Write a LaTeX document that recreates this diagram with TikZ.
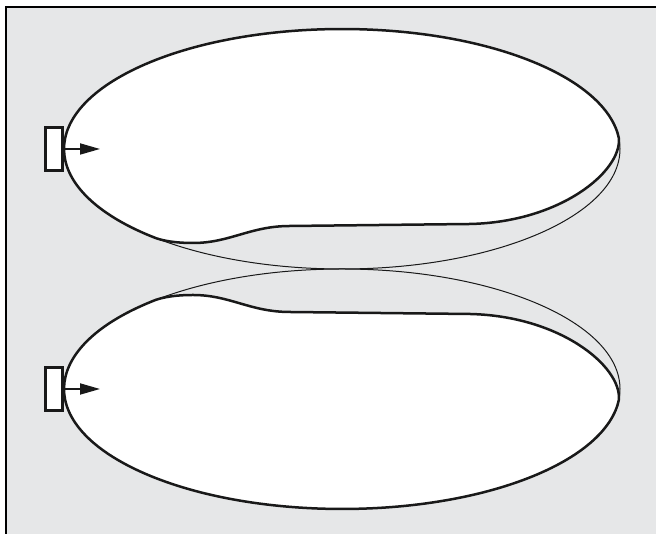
\documentclass[tikz,border=0pt]{standalone}
\usetikzlibrary{arrows.meta}
\definecolor{bggray}{RGB}{230,231,232}

\begin{document}
\begin{tikzpicture}[
    x=1pt, y=1pt,
    frameline/.style={black, line width=1.6pt},
    thinedge/.style={black!90, line width=1pt},
    balloon/.style={black!90, line width=2.5pt, fill=white},
    probe/.style={draw=black!90, line width=2.2pt, fill=white,
                  minimum width=17, minimum height=43, inner sep=0pt},
    beam/.style={black!90, line width=1.8pt,
                 -{Triangle[length=20pt, width=11pt]}}
]
\useasboundingbox (0,0) rectangle (656,534);

% ---------- background ----------
\fill[bggray] (6,0) rectangle (656,527);
\draw[frameline] (6,0) -- (6,527) -- (656,527);

% ---------- two halves, mirrored ----------
\foreach \s/\n in {1/a,-1/b} {
  \begin{scope}[shift={(0,265)}, yscale=\s]
    \coordinate (ctr\n) at (342,120);
    \draw[thinedge] (ctr\n) ellipse [x radius=278, y radius=120];
    \draw[balloon] (156,30.8)
        arc [start angle=228, end angle=5, x radius=278, y radius=120]
        .. controls (621,97) and (560,47) .. (470,45)
        -- (290,43)
        .. controls (250,43) and (230,26) .. (193,26)
        .. controls (183,26) and (168,26.7) .. cycle;
    % ---------- probe ----------
    \node[probe] (probe\n) at (54,120) {};
    \coordinate (tip\n) at (100,120);
    \draw[beam] (probe\n.east) -- (tip\n);
  \end{scope}
}

\end{tikzpicture}
\end{document}
